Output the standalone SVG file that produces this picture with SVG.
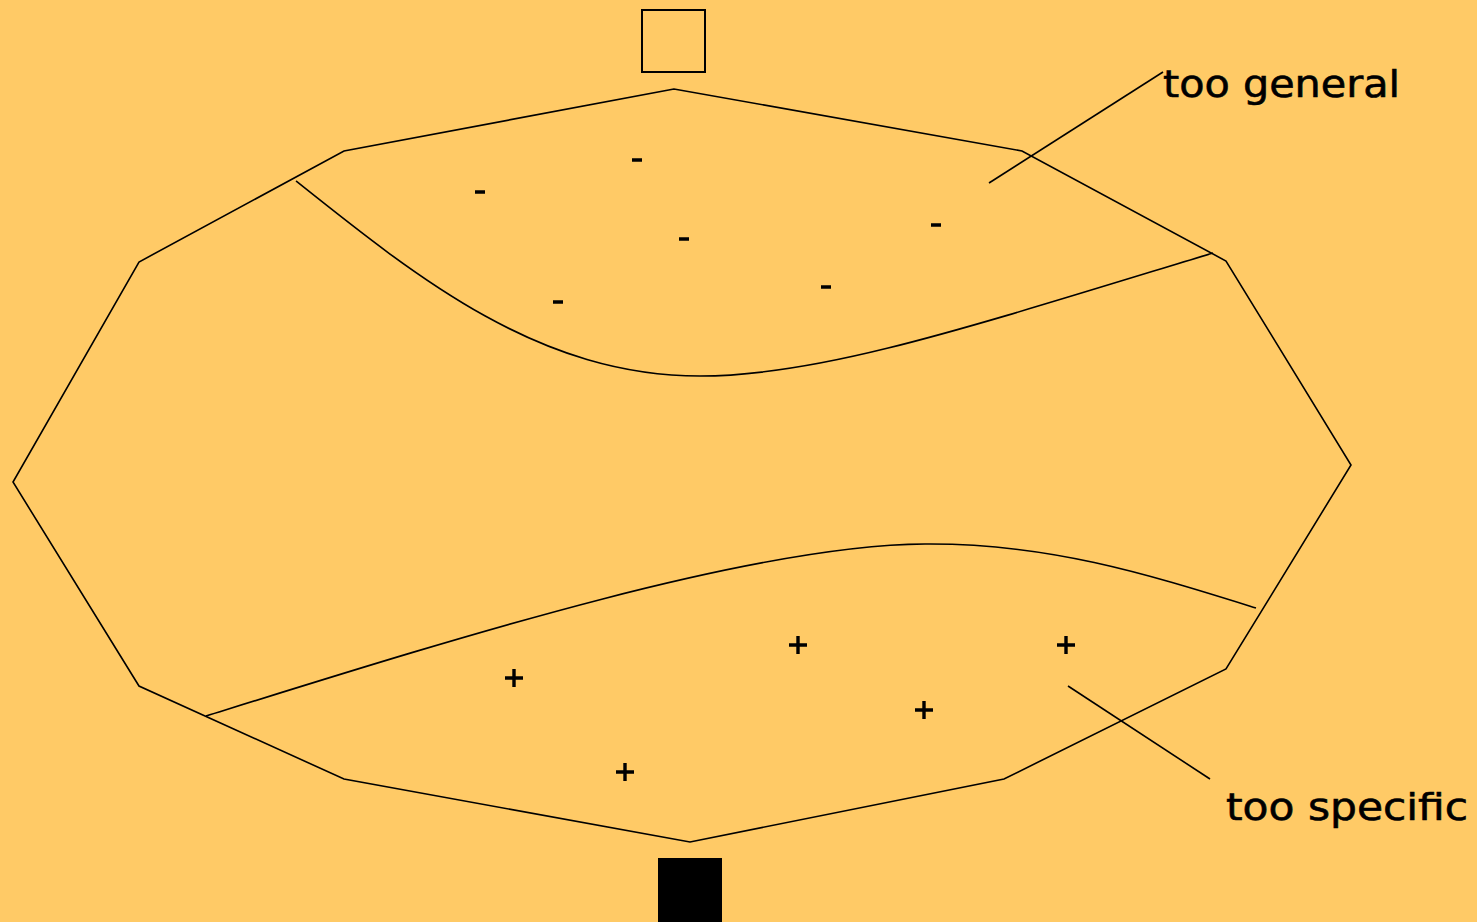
<svg xmlns="http://www.w3.org/2000/svg" width="1477" height="922" viewBox="0 0 1477 922">
<style>
.ln{fill:none;stroke:#000;stroke-width:1.6}
.lbl{font-family:"DejaVu Sans",sans-serif;font-size:38px;fill:#000;stroke:#000;stroke-width:0.6}
.mk{stroke:#000;stroke-width:3.4;fill:none}
</style>
<rect width="1477" height="922" fill="#FFCA66"/>
<g id="space">
<polygon class="ln" points="674,89 344,151 139,262 13,482 139,686 344,779 690,842 1004,779 1226,669 1351,465 1226,261 1022,151"/>
</g>
<g id="general-region">
<path class="ln" d="M296,181 C420,280 540,376 700,376 C820,376 960,330 1213,253"/>
</g>
<g id="specific-region">
<path class="ln" d="M206,716 C450,640 750,545 925,544 C1050,543 1150,575 1256,608"/>
</g>
<g id="top-box"><rect x="642" y="10" width="63" height="62" fill="none" stroke="#000" stroke-width="2"/></g>
<g id="bottom-box"><rect x="658" y="858" width="64" height="64" fill="#000"/></g>
<g id="negatives">
<path class="mk" d="M632,160h10M475,192h10M679,239h10M931,225h10M821,287h10M553,302h10"/>
</g>
<g id="positives">
<path class="mk" d="M505,678h18M514,669v18M789,645h18M798,636v18M1057,645h18M1066,636v18M915,710h18M924,701v18M616,772h18M625,763v18"/>
</g>
<g id="connectors">
<path class="ln" d="M1163,72L989,183"/>
<path class="ln" d="M1068,686L1210,779"/>
</g>
<g id="label-general"><text class="lbl" x="1163" y="97" textLength="237" lengthAdjust="spacingAndGlyphs">too general</text></g>
<g id="label-specific"><text class="lbl" x="1226" y="820" textLength="242" lengthAdjust="spacingAndGlyphs">too specific</text></g>
</svg>
